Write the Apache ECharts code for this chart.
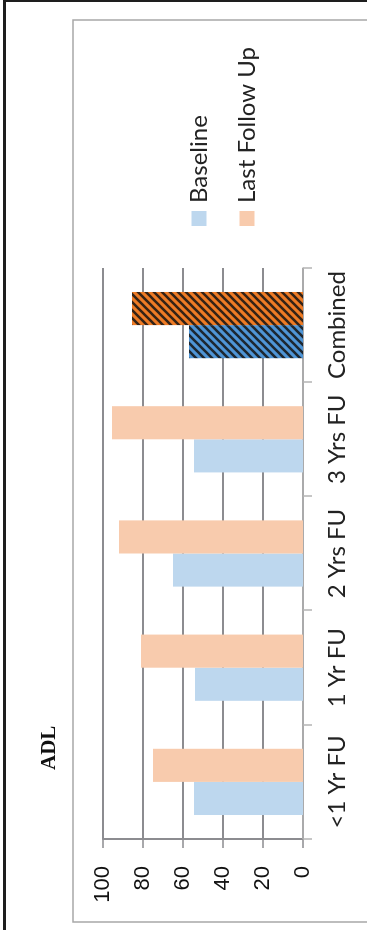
<!DOCTYPE html>
<html>
<head>
<meta charset="utf-8">
<script src="https://cdn.jsdelivr.net/npm/echarts@6/dist/echarts.min.js"></script>
<style>
    html, body { margin: 0; padding: 0; background: #fff; overflow: hidden; }
    #page { position: absolute; left: 3px; top: 0; width: 364px; height: 930px;
            border-left: 3px solid #1e1e1e; border-top: 2px solid #1e1e1e; box-sizing: border-box; }
    /* the figure is printed sideways, so draw it upright and turn it */
    #chart { position: absolute; left: 0; top: 0; width: 930px; height: 367px;
             transform-origin: 0 0; transform: translateY(930px) rotate(-90deg); }
</style>
</head>
<body>
<div id="page"></div>
<div id="chart"></div>
<script>
var categories = ['<1 Yr FU', '1 Yr FU', '2 Yrs FU', '3 Yrs FU', 'Combined'];
var baseline = [54.5, 54, 65, 54.5, 57];
var lastFollowUp = [75, 81, 92, 95.5, 85.5];
var valueTicks = [0, 20, 40, 60, 80, 100];

// hatched fill used for the "Combined" bars
function makeHatch(base) {
    var c = document.createElement('canvas');
    c.width = 8;
    c.height = 8;
    var ctx = c.getContext('2d');
    ctx.fillStyle = base;
    ctx.fillRect(0, 0, 8, 8);
    ctx.strokeStyle = 'rgba(20,20,20,0.85)';
    ctx.lineWidth = 2.6;
    ctx.beginPath();
    ctx.moveTo(-1, 9); ctx.lineTo(9, -1);
    ctx.moveTo(-1, 1); ctx.lineTo(1, -1);
    ctx.moveTo(7, 9); ctx.lineTo(9, 7);
    ctx.stroke();
    return { image: c, repeat: 'repeat' };
}

function withCombined(arr, hatch) {
    var out = [];
    for (var i = 0; i < arr.length; i++) {
        if (categories[i] === 'Combined') {
            out.push({ value: arr[i], itemStyle: { color: hatch } });
        } else {
            out.push(arr[i]);
        }
    }
    return out;
}

var option = {
    animation: false,
    title: {
        text: 'ADL',
        left: 160,
        top: 39,
        padding: 0,
        textStyle: {
            fontFamily: 'Liberation Serif',
            fontWeight: 'bold',
            fontSize: 21,
            color: '#111'
        }
    },
    legend: {
        orient: 'vertical',
        left: 704,
        top: 187,
        padding: 0,
        itemWidth: 15,
        itemHeight: 15,
        itemGap: 24,
        icon: 'rect',
        data: ['Baseline', 'Last Follow Up'],
        textStyle: {
            fontFamily: 'Lato',
            fontSize: 24,
            lineHeight: 24,
            color: '#222',
            padding: [0, 0, 0, 3]
        }
    },
    grid: {
        left: 91,
        right: 268,
        top: 103,
        bottom: 64
    },
    xAxis: {
        type: 'category',
        data: categories,
        axisLine: { lineStyle: { color: '#b4b4b4', width: 1.5 } },
        axisTick: { show: true, length: 9, lineStyle: { color: '#b4b4b4', width: 1.5 } },
        axisLabel: {
            fontFamily: 'Lato',
            fontSize: 24,
            color: '#222',
            margin: 22,
            interval: 0
        }
    },
    yAxis: {
        type: 'value',
        min: valueTicks[0],
        max: valueTicks[valueTicks.length - 1],
        interval: 20,
        axisLine: { show: true, lineStyle: { color: '#8c8c90', width: 2 } },
        axisTick: { show: true, length: 9, lineStyle: { color: '#8c8c90', width: 1.5 } },
        splitLine: { lineStyle: { color: '#8c8c90', width: 2 } },
        axisLabel: {
            fontFamily: 'Liberation Sans',
            fontSize: 22,
            color: '#111',
            margin: 27
        }
    },
    graphic: [{
        type: 'rect',
        shape: { x: 8, y: 73, width: 902, height: 320 },
        style: { fill: 'none', stroke: '#a8a8a8', lineWidth: 1.5 },
        silent: true
    }],
    series: [{
        name: 'Baseline',
        type: 'bar',
        barGap: '0%',
        barCategoryGap: '42%',
        itemStyle: { color: '#bdd7ee' },
        data: withCombined(baseline, makeHatch('#4f95d6'))
    }, {
        name: 'Last Follow Up',
        type: 'bar',
        barGap: '0%',
        barCategoryGap: '42%',
        itemStyle: { color: '#f8cbad' },
        data: withCombined(lastFollowUp, makeHatch('#ee7b25'))
    }]
};

var echart = echarts.init(document.getElementById('chart'));
echart.setOption(option, true);
</script>
</body>
</html>
